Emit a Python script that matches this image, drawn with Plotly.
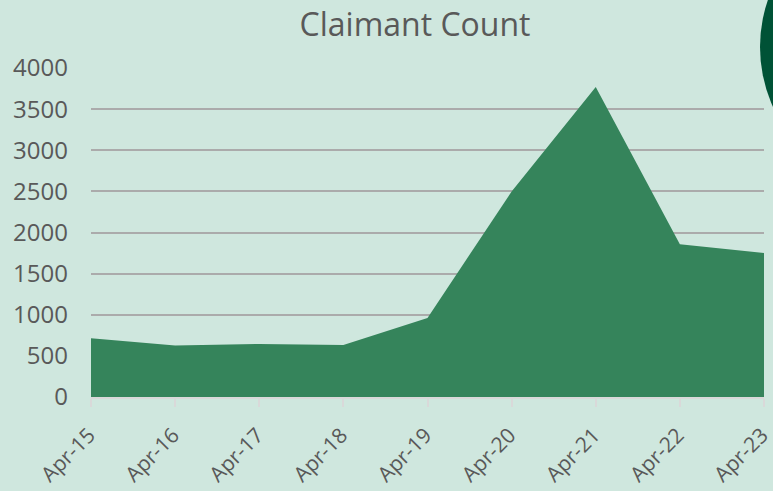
import plotly.graph_objects as go

categories = ["Apr-15", "Apr-16", "Apr-17", "Apr-18", "Apr-19", "Apr-20", "Apr-21", "Apr-22", "Apr-23"]
claimants = [715, 625, 645, 633, 962, 2498, 3770, 1858, 1750]
y_ticks = [0, 500, 1000, 1500, 2000, 2500, 3000, 3500, 4000]

W, H = 773, 491
ML, MR, MT, MB = 91, 9, 68, 93.5
pw = W - ML - MR
ph = H - MT - MB

def px_to_paper_x(px):
    return (px - ML) / pw

def px_to_paper_y(py):
    return (H - MB - py) / ph

fig = go.Figure()
fig.add_trace(go.Scatter(
    x=list(range(len(categories))),
    y=claimants,
    mode="lines",
    line=dict(width=0, color="#35845B"),
    fill="tozeroy",
    fillcolor="#35845B",
    hoverinfo="skip",
    showlegend=False,
))

# decorative circle at top right
cx, cy, r = 905, 47, 145
fig.add_shape(
    type="circle", xref="paper", yref="paper",
    x0=px_to_paper_x(cx - r), x1=px_to_paper_x(cx + r),
    y0=px_to_paper_y(cy + r), y1=px_to_paper_y(cy - r),
    fillcolor="#005236", line=dict(width=0), layer="above",
)

eps = 1e-6
fig.update_layout(
    width=W, height=H,
    margin=dict(l=ML, r=MR, t=MT, b=MB, autoexpand=False),
    paper_bgcolor="#CFE7DE",
    plot_bgcolor="#CFE7DE",
    font=dict(family="Open Sans", color="#595959", size=23),
    title=dict(
        text="Claimant Count",
        x=415 / W, xanchor="center", xref="container",
        y=1 - 25 / H, yanchor="middle", yref="container",
        font=dict(size=32, color="#595959", family="Open Sans"),
    ),
    xaxis=dict(
        range=[-eps, len(categories) - 1 + eps],
        tickmode="array",
        tickvals=list(range(len(categories))),
        ticktext=categories,
        tickangle=-45,
        ticklabeloverflow="allow",
        ticklabelstandoff=8,
        ticklabelshift=-2,
        showgrid=False,
        zeroline=False,
        showline=True,
        linecolor="#D9D9D9",
        linewidth=1.5,
        ticks="outside",
        ticklen=8,
        tickcolor="#D9D9D9",
        tickwidth=1.5,
        tickfont=dict(size=21, color="#595959"),
    ),
    yaxis=dict(
        range=[0, 4000],
        tickmode="array",
        tickvals=y_ticks,
        ticktext=[str(v) for v in y_ticks],
        ticklabeloverflow="allow",
        showgrid=True,
        gridcolor="#ABABAB",
        gridwidth=1.5,
        zeroline=False,
        showline=False,
        ticks="",
        ticklabelstandoff=22,
        tickfont=dict(size=24, color="#595959"),
    ),
)

fig.write_html(
    "out.html",
    config={"displayModeBar": False},
    post_script="document.body.style.margin='0';document.body.style.padding='0';document.body.style.overflow='hidden';",
)
